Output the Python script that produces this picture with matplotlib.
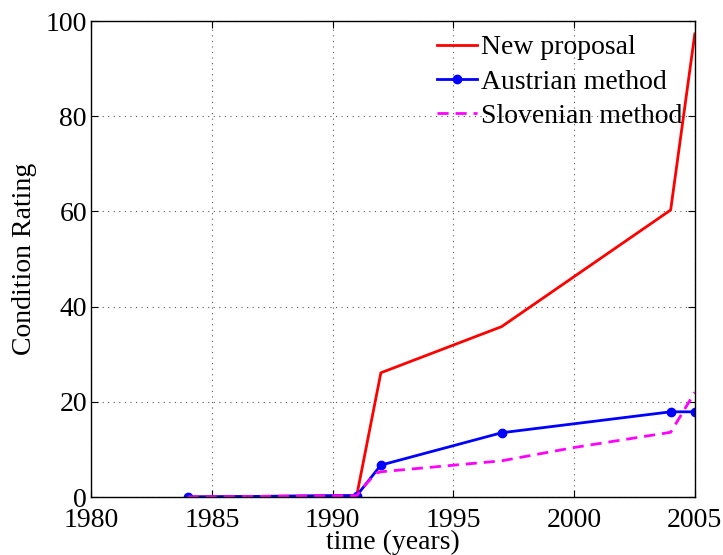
import matplotlib
matplotlib.use("Agg")
from matplotlib import pyplot as plt

# Condition rating of the structure over time for three assessment methods
years_new = [1984, 1991, 1992, 1997, 2004, 2005]
rating_new = [0.0, 0.3, 26.1, 35.8, 60.3, 97.3]

years_austrian = [1984, 1991, 1992, 1997, 2004, 2005]
rating_austrian = [0.0, 0.3, 6.7, 13.5, 17.9, 17.9]

years_slovenian = [1984, 1991, 1991.4, 1991.8, 1992, 1997, 2000, 2004, 2005]
rating_slovenian = [0.0, 0.3, 2.8, 5.0, 5.3, 7.6, 10.4, 13.6, 22.0]

x_ticks = [1980, 1985, 1990, 1995, 2000, 2005]
y_ticks = [0, 20, 40, 60, 80, 100]

plt.rcParams["font.family"] = ["Liberation Serif", "DejaVu Serif"]

fig = plt.figure(figsize=(7.23, 5.55), dpi=100)
ax = fig.add_axes([0.126, 0.1045, 0.835, 0.8575])

ax.plot(years_new, rating_new, color="red", linewidth=2.0, label="New proposal")
ax.plot(years_austrian, rating_austrian, color="blue", linewidth=2.0, marker="o",
        markersize=6, label="Austrian method")
ax.plot(years_slovenian, rating_slovenian, color="magenta", linewidth=2.0,
        linestyle=(0, (4, 2.5)), label="Slovenian method")

ax.set_xlim(1980, 2005)
ax.set_ylim(0, 100)
ax.set_xticks(x_ticks)
ax.set_yticks(y_ticks)
ax.tick_params(direction="in", length=5, width=0.8, labelsize=20,
               top=True, right=True)
ax.tick_params(axis="x", pad=8)
ax.tick_params(axis="y", pad=3)
ax.grid(True, linestyle=(0, (1, 4)), color="0.35", linewidth=0.8)

for spine in ax.spines.values():
    spine.set_linewidth(1.0)

ax.set_xlabel("time (years)", fontsize=20, labelpad=-2)
ax.set_ylabel("Condition Rating", fontsize=20, labelpad=6)

ax.legend(loc="upper right", frameon=False, fontsize=20, handlelength=1.45,
          handletextpad=0.15, labelspacing=0.32, borderaxespad=0.1,
          bbox_to_anchor=(1.003, 1.0))

fig.savefig("out.png", dpi=100)
